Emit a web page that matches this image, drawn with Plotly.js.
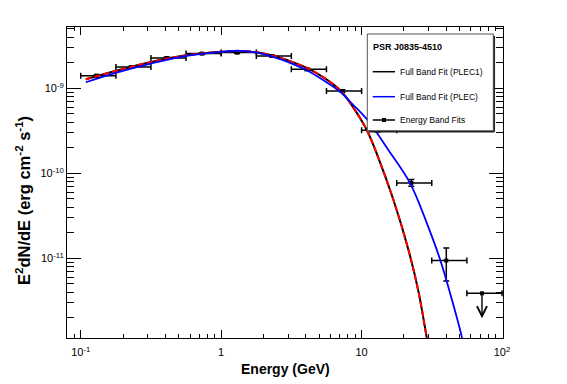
<!DOCTYPE html>
<html>
<head>
<meta charset="utf-8">
<script src="https://cdn.plot.ly/plotly-3.0.1.min.js"></script>
<style>html,body{margin:0;padding:0;background:#fff;}#chart{width:567px;height:384px;}</style>
</head>
<body>
<div id="chart"></div>
<script>
// ---- Energy band fits (GeV, erg cm^-2 s^-1) ----
const bandE     = [0.13, 0.23, 0.41, 0.73, 1.3, 2.3, 4.1, 7.3, 13.0, 22.6, 40.1];
const bandLo    = [0.1, 0.178, 0.316, 0.562, 1.0, 1.78, 3.16, 5.62, 10.0, 17.8, 31.6];
const bandHi    = [0.178, 0.316, 0.562, 1.0, 1.78, 3.16, 5.62, 10.0, 17.8, 31.6, 56.2];
const bandFlux  = [1.40e-9, 1.78e-9, 2.27e-9, 2.56e-9, 2.63e-9, 2.40e-9, 1.67e-9, 9.3e-10, 3.2e-10, 7.7e-11, 9.4e-12];
const bandErrUp = [0.05e-9, 0.05e-9, 0.06e-9, 0.06e-9, 0.06e-9, 0.06e-9, 0.05e-9, 0.3e-10, 0.15e-10, 0.73e-11, 3.8e-12];
const bandErrDn = [0.05e-9, 0.05e-9, 0.06e-9, 0.06e-9, 0.06e-9, 0.06e-9, 0.05e-9, 0.3e-10, 0.15e-10, 0.67e-11, 4.0e-12];

// ---- Upper limit ----
const ulE    = [72.0];
const ulLo   = [56.2];
const ulHi   = [100.0];
const ulFlux = [3.87e-12];
const ulTip  = [1.97e-12];

// ---- Full band fit PLEC1 ----
const plec1E = [0.1086, 0.1797, 0.3106, 0.5674, 1.008, 1.361, 1.791, 2.342, 3.096, 4.072, 5.349, 7.038, 8.71, 10.91, 13.20, 16.89, 21.60, 25.46, 29.13, 30.34];
const plec1F = [1.276e-9, 1.607e-9, 2.023e-9, 2.444e-9, 2.688e-9, 2.754e-9, 2.654e-9, 2.41e-9, 2.08e-9, 1.741e-9, 1.346e-9, 9.47e-10, 5.97e-10, 3.206e-10, 1.501e-10, 4.81e-11, 1.242e-11, 4.0e-12, 1.146e-12, 7.83e-13];

// ---- Full band fit PLEC ----
const plecE = [0.1086, 0.1797, 0.3106, 0.5674, 1.008, 1.361, 1.791, 2.342, 3.096, 4.072, 5.349, 7.038, 8.71, 11.20, 15.56, 22.22, 29.23, 36.37, 44.07, 51.94, 53.93];
const plecF = [1.177e-9, 1.53e-9, 1.942e-9, 2.412e-9, 2.688e-9, 2.761e-9, 2.63e-9, 2.347e-9, 1.995e-9, 1.628e-9, 1.242e-9, 9.095e-10, 6.4e-10, 4.09e-10, 1.866e-10, 7.57e-11, 2.56e-11, 9.47e-12, 3.21e-12, 1.146e-12, 7.83e-13];

// ---- Axis ticks ----
const xTickVals = [0.1, 1, 10, 100];
const xTickText = ['10<sup>-1</sup>', '1', '10', '10<sup>2</sup>'];
const yTickVals = [1e-11, 1e-10, 1e-9];
const yTickText = ['10<sup>-11</sup>', '10<sup>-10</sup>', '10<sup>-9</sup>'];

const legendTitle = 'PSR J0835-4510';
const legendNames = ['Full Band Fit (PLEC1)', 'Full Band Fit (PLEC)', 'Energy Band Fits'];
const xTitle = '<b>Energy (GeV)</b>';
const yTitle = '<b>E<sup>2</sup>dN/dE (erg cm<sup>-2</sup> s<sup>-1</sup>)</b>';

function minorVals(lo, hi) {
  const v = [];
  for (let d = lo; d <= hi; d++) for (let k = 2; k <= 9; k++) v.push(k * Math.pow(10, d));
  return v;
}

const traces = [
  {
    x: bandE, y: bandFlux, type: 'scatter', mode: 'markers', showlegend: false,
    marker: {symbol: 'square', size: 4, color: 'black'},
    error_x: {type: 'data', symmetric: false,
      array: bandE.map((e, i) => bandHi[i] - e), arrayminus: bandE.map((e, i) => e - bandLo[i]),
      color: 'black', thickness: 1.5, width: 3},
    error_y: {type: 'data', symmetric: false, array: bandErrUp, arrayminus: bandErrDn,
      color: 'black', thickness: 1.5, width: 3}
  },
  {
    x: ulE, y: ulFlux, type: 'scatter', mode: 'markers', showlegend: false,
    marker: {symbol: 'square', size: 4, color: 'black'},
    error_x: {type: 'data', symmetric: false,
      array: ulE.map((e, i) => ulHi[i] - e), arrayminus: ulE.map((e, i) => e - ulLo[i]),
      color: 'black', thickness: 1.5, width: 3}
  },
  {x: plec1E, y: plec1F, type: 'scatter', mode: 'lines', showlegend: false,
   line: {color: 'black', width: 2, shape: 'spline', smoothing: 1}},
  {x: plec1E, y: plec1F, type: 'scatter', mode: 'lines', showlegend: false,
   line: {color: '#ff0000', width: 2, dash: '6px,3px', shape: 'spline', smoothing: 1}},
  {x: plecE, y: plecF, type: 'scatter', mode: 'lines', showlegend: false,
   line: {color: '#0000ff', width: 1.8, shape: 'spline', smoothing: 1}}
];

// paper coordinate helpers for the hand-built legend (plot area 436 x 311, origin at 67,338)
const PX = p => (p - 67) / 436;
const PY = p => (338 - p) / 311;

const shapes = [
  {type: 'rect', xref: 'paper', yref: 'paper', x0: PX(367.3), x1: PX(493.3), y0: PY(130.7), y1: PY(34),
   fillcolor: 'white', line: {color: '#555', width: 1}, layer: 'above'},
  {type: 'line', xref: 'paper', yref: 'paper', x0: PX(494.3), x1: PX(494.3), y0: PY(131.7), y1: PY(36),
   line: {color: '#222', width: 1.5}, layer: 'above'},
  {type: 'line', xref: 'paper', yref: 'paper', x0: PX(369), x1: PX(494.3), y0: PY(131.7), y1: PY(131.7),
   line: {color: '#222', width: 1.5}, layer: 'above'},
  {type: 'line', xref: 'paper', yref: 'paper', x0: PX(372.7), x1: PX(395), y0: PY(71.7), y1: PY(71.7),
   line: {color: 'black', width: 1.5}, layer: 'above'},
  {type: 'line', xref: 'paper', yref: 'paper', x0: PX(372.7), x1: PX(395), y0: PY(96.7), y1: PY(96.7),
   line: {color: '#0000ff', width: 1.5}, layer: 'above'},
  {type: 'line', xref: 'paper', yref: 'paper', x0: PX(372.7), x1: PX(395), y0: PY(120), y1: PY(120),
   line: {color: 'black', width: 1.5}, layer: 'above'},
  {type: 'rect', xref: 'paper', yref: 'paper', x0: PX(382), x1: PX(386), y0: PY(122), y1: PY(118),
   fillcolor: 'black', line: {color: 'black', width: 0}, layer: 'above'}
];

const legFont = {family: 'Liberation Sans, Arial, sans-serif', size: 8.5, color: 'black'};
const annotations = [
  {xref: 'paper', yref: 'paper', x: PX(370.5), y: PY(46.7), xanchor: 'left', yanchor: 'middle',
   text: '<b>' + legendTitle + '</b>', showarrow: false, font: {family: legFont.family, size: 9, color: 'black'}},
  {xref: 'paper', yref: 'paper', x: PX(398), y: PY(71.7), xanchor: 'left', yanchor: 'middle',
   text: legendNames[0], showarrow: false, font: legFont},
  {xref: 'paper', yref: 'paper', x: PX(398), y: PY(96.7), xanchor: 'left', yanchor: 'middle',
   text: legendNames[1], showarrow: false, font: legFont},
  {xref: 'paper', yref: 'paper', x: PX(398), y: PY(120), xanchor: 'left', yanchor: 'middle',
   text: legendNames[2], showarrow: false, font: legFont},
  {xref: 'paper', yref: 'paper', x: 0.5, y: PY(369), xanchor: 'center', yanchor: 'middle',
   text: xTitle, showarrow: false, font: {family: 'Liberation Sans, Arial, sans-serif', size: 14, color: 'black'}},
  {xref: 'paper', yref: 'paper', x: PX(23), y: PY(201), xanchor: 'center', yanchor: 'middle', textangle: -90,
   text: yTitle, showarrow: false, font: {family: 'Liberation Sans, Arial, sans-serif', size: 16.5, color: 'black'}},
  // upper-limit arrow
  {x: Math.log10(ulE[0]), y: Math.log10(ulTip[0]), xref: 'x', yref: 'y',
   ax: Math.log10(ulE[0]), ay: Math.log10(ulFlux[0]), axref: 'x', ayref: 'y',
   showarrow: true, arrowhead: 5, arrowsize: 1.4, arrowwidth: 1.4, arrowcolor: 'black', text: ''}
];

const tickFont = {family: 'Liberation Sans, Arial, sans-serif', size: 11, color: 'black'};
const layout = {
  width: 567, height: 384,
  margin: {l: 67, r: 64, t: 27, b: 46},
  paper_bgcolor: 'white', plot_bgcolor: 'white',
  showlegend: false,
  xaxis: {
    type: 'log', range: [-1.098, 2.007], autorange: false,
    tickmode: 'array', tickvals: xTickVals, ticktext: xTickText,
    ticks: 'inside', ticklen: 8, tickwidth: 1, tickcolor: 'black',
    minor: {tickmode: 'array', tickvals: minorVals(-2, 2), ticks: 'inside', ticklen: 4, tickwidth: 1, tickcolor: 'black', showgrid: false},
    showline: true, linecolor: 'black', linewidth: 1, mirror: 'ticks',
    showgrid: false, zeroline: false, tickfont: tickFont, ticklabelstandoff: 4
  },
  yaxis: {
    type: 'log', range: [-11.938, -8.279], autorange: false,
    tickmode: 'array', tickvals: yTickVals, ticktext: yTickText,
    ticks: 'inside', ticklen: 14, tickwidth: 1, tickcolor: 'black',
    minor: {tickmode: 'array', tickvals: minorVals(-13, -8), ticks: 'inside', ticklen: 7, tickwidth: 1, tickcolor: 'black', showgrid: false},
    showline: true, linecolor: 'black', linewidth: 1, mirror: 'ticks',
    showgrid: false, zeroline: false, tickfont: tickFont, ticklabelstandoff: 0
  },
  shapes: shapes,
  annotations: annotations
};

Plotly.newPlot('chart', traces, layout, {displayModeBar: false, staticPlot: true});
</script>
</body>
</html>
